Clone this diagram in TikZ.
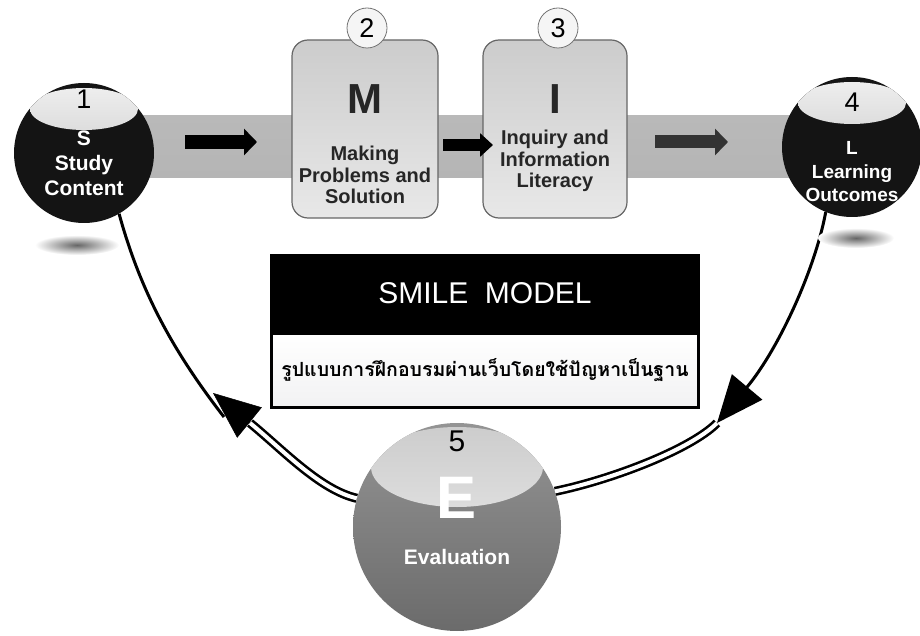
\documentclass[tikz,border=0pt]{standalone}
\usepackage{fontspec}
\setmainfont{Liberation Sans}
\newfontfamily\thaifont[Script=Thai]{Loma}
\usetikzlibrary{arrows.meta,positioning,backgrounds}
\newcommand{\fsz}[2]{\fontsize{#1}{#2}\selectfont}

\tikzset{
  darkball/.style={circle, minimum size=140pt, inner sep=0pt, fill=black!92,
    path picture={\shade[top color=gray!12, bottom color=gray!55]
      ([yshift=-26pt]path picture bounding box.north) ellipse (54pt and 21pt);}},
  eball/.style={circle, minimum size=208pt, inner sep=0pt, top color=black!42, bottom color=black!58,
    path picture={\shade[top color=gray!40, bottom color=gray!8]
      ([yshift=-44pt]path picture bounding box.north) ellipse (86pt and 40pt);}},
  mbox/.style={rectangle, rounded corners=16pt, minimum width=146pt, minimum height=178pt,
    draw=black!60, line width=1.2pt, top color=gray!40, bottom color=gray!18},
  numcircle/.style={circle, minimum size=40pt, inner sep=0pt, draw=black!55, line width=0.8pt,
    fill=gray!8, font=\fsz{27}{27}},
  numtxt/.style={font=\fsz{27}{27}, text=black},
  balltxt/.style={text=white, font=\bfseries\fsz{21}{25}, align=center},
  boxtxt/.style={text=black!85, font=\bfseries\fsz{20}{21.5}, align=center},
  bigletter/.style={text=black!85, font=\bfseries\fsz{42}{42}},
  thinlink/.style={line width=3pt, black},
  dbllink/.style={line width=2.6pt, double=white, double distance=4pt},
  bighead/.style={-{Triangle[length=47pt,width=39pt]}},
  blockarrow/.style={line width=14pt, -{Triangle[length=13pt,width=26pt]}}
}

\begin{document}
\begin{tikzpicture}[x=1pt,y=-1pt]
  \useasboundingbox (0,0) rectangle (920,636);
  \shade[top color=gray!55, middle color=gray!28, bottom color=gray!58] (130,116) rectangle (800,178);
  \shade[inner color=black!60, outer color=white] (77,245) ellipse (42pt and 10pt);
  \shade[inner color=black!60, outer color=white] (856,238) ellipse (38pt and 10pt);

  \node[darkball] (s) at (84,153) {};
  \node[numtxt] (n1) at ([yshift=-16pt]s.north) {1};
  \node[balltxt] (stxt) at ([yshift=-10pt]s.center) {S\\Study\\Content};

  \node[darkball] (l) at (852,147) {};
  \node[numtxt] (n4) at ([yshift=-25pt]l.north) {4};
  \node[balltxt, font=\bfseries\fsz{19}{23.5}] (ltxt) at ([yshift=-25pt]l.center) {L\\Learning\\Outcomes};

  \node[mbox] (m) at (365,129) {};
  \node[numcircle] (n2) at (367,28) {2};
  \node[bigletter] (mlet) at ([yshift=-60pt]m.north) {M};
  \node[boxtxt] (mtxt) at ([yshift=-46pt]m.center) {Making\\Problems and\\Solution};

  \node[mbox, minimum width=144pt] (i) at (555,129) {};
  \node[numcircle] (n3) at (558,28) {3};
  \node[bigletter] (ilet) at ([yshift=-60pt]i.north) {I};
  \node[boxtxt] (itxt) at ([yshift=-32pt]i.center) {Inquiry and\\Information\\Literacy};

  \draw[blockarrow] (185,142) -- (257,142);
  \draw[blockarrow, line width=12pt, -{Triangle[length=13pt,width=23pt]}] (443,145) -- (493,145);
  \draw[blockarrow, black!80, line width=13pt] (655,142) -- (728,142);

  \node[fill=black, minimum width=430pt, minimum height=78pt, text=white, font=\fsz{30}{30}]
    (title) at (485,293) {SMILE\ \ MODEL};
  \node[draw=black, line width=2.5pt, minimum width=427pt, minimum height=74pt, anchor=north,
    top color=white, bottom color=blue!5!gray!10, font=\thaifont\bfseries\fsz{19.5}{20}]
    (sub) at (title.south) {รูปแบบการฝึกอบรมผ่านเว็บโดยใช้ปัญหาเป็นฐาน};

  \node[eball] (e) at (457,527) {};
  \node[numtxt, font=\fsz{30}{30}] (n5) at ([yshift=-19pt]e.north) {5};
  \node[text=white, font=\bfseries\fsz{60}{60}] (elet) at ([yshift=29pt]e.center) {E};
  \node[text=white, font=\bfseries\fsz{21}{21}] (etxt) at ([yshift=-30pt]e.center) {Evaluation};

  \coordinate (qtip) at (213,393);
  \coordinate (qbase) at (250,423);
  \coordinate (qend) at (224,417);
  \coordinate (ptip) at (717,423);

  \begin{scope}[on background layer]
    \draw[thinlink] (s.-60) .. controls (140,290) and (172,350) .. (qend);
    \draw[dbllink] (e.164) .. controls (320,490) and (282,449) .. (qbase);
    \draw[thinlink, line width=0.5pt, bighead] (qbase) -- (qtip);
    \draw[thinlink, bighead] (l.-112) .. controls (815,270) and (778,350) .. (ptip);
    \draw[dbllink] (ptip) .. controls (690,450) and (610,480) .. (e.20);
  \end{scope}
\end{tikzpicture}
\end{document}
